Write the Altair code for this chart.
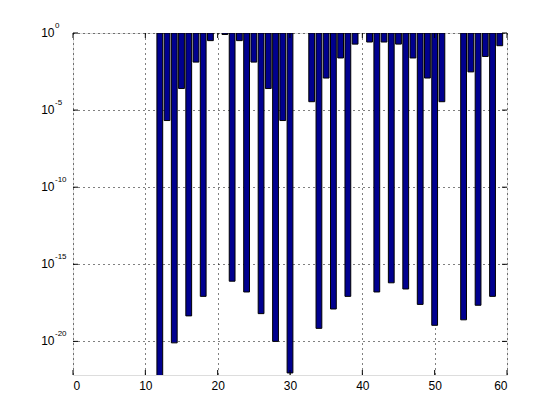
import altair as alt
import pandas as pd

# bar positions and their (log-scale) values
positions = [12, 13, 14, 15, 16, 17, 18, 19,
             21, 22, 23, 24, 25, 26, 27, 28, 29, 30,
             33, 34, 35, 36, 37, 38, 39,
             41, 42, 43, 44, 45, 46, 47, 48, 49, 50, 51,
             54, 55, 56, 57, 58, 59]
values = [1e-23, 2.1e-6, 8e-21, 2.5e-4, 4.5e-19, 1.3e-2, 8.3e-18, 0.32,
          0.8, 8e-17, 0.32, 1.6e-17, 1.3e-2, 6.3e-19, 2.5e-4, 1e-20, 2.1e-6, 9e-23,
          3.5e-5, 7e-20, 1.2e-3, 1.26e-18, 2.4e-2, 8.3e-18, 0.19,
          0.26, 1.6e-17, 0.26, 6.3e-17, 0.19, 2.5e-17, 2.4e-2, 2.5e-18, 1.2e-3, 1.1e-19, 3.5e-5,
          2.5e-19, 3e-3, 2.2e-18, 3e-2, 8.3e-18, 0.15]

x_ticks = [0, 10, 20, 30, 40, 50, 60]
y_tick_values = [1, 1e-5, 1e-10, 1e-15, 1e-20]
y_tick_exponents = ["0", "-5", "-10", "-15", "-20"]

W, H = 434, 342
FONT = "Liberation Sans"
BAR_HALF = 0.4

bars_df = pd.DataFrame({"x": positions, "v": values})
xt_df = pd.DataFrame({"t": x_ticks})
yt_df = pd.DataFrame({"v": y_tick_values, "e": y_tick_exponents})

xscale = alt.Scale(domain=[0, 60], nice=False, zero=False)
yscale = alt.Scale(type="log", domain=[6.6e-23, 1], nice=False)

xaxis = alt.Axis(
    values=x_ticks, grid=True, gridDash=[1, 4], gridColor="black", gridOpacity=1,
    ticks=False, domain=False, labelFont=FONT, labelFontSize=12, labelColor="black",
    labelPadding=5, title=None, format="d")
yaxis = alt.Axis(
    values=y_tick_values, grid=True, gridDash=[1, 4], gridColor="black", gridOpacity=1,
    labels=False, ticks=False, domain=False, title=None)

bars = alt.Chart(bars_df).transform_calculate(
    lo=f"datum.x - {BAR_HALF}", hi=f"datum.x + {BAR_HALF}"
).mark_rect(color="#00008F", stroke="black", strokeWidth=1, clip=True).encode(
    x=alt.X("lo:Q", scale=xscale, axis=xaxis),
    x2="hi:Q",
    y=alt.Y("v:Q", scale=yscale, axis=yaxis),
    y2=alt.value(0),
)

xt_bottom = alt.Chart(xt_df).mark_rule(color="black", strokeWidth=1).encode(
    x=alt.X("t:Q", scale=xscale, axis=xaxis), y=alt.value(H), y2=alt.value(H - 5))
xt_top = alt.Chart(xt_df).mark_rule(color="black", strokeWidth=1).encode(
    x=alt.X("t:Q", scale=xscale, axis=xaxis), y=alt.value(0), y2=alt.value(5))
yt_left = alt.Chart(yt_df).mark_rule(color="black", strokeWidth=1).encode(
    y=alt.Y("v:Q", scale=yscale, axis=yaxis), x=alt.value(0), x2=alt.value(5))
yt_right = alt.Chart(yt_df).mark_rule(color="black", strokeWidth=1).encode(
    y=alt.Y("v:Q", scale=yscale, axis=yaxis), x=alt.value(W), x2=alt.value(W - 5))

lab_base = alt.Chart(yt_df).transform_calculate(b="'10'").mark_text(
    font=FONT, fontSize=12, align="right", baseline="alphabetic", dy=4, color="black"
).encode(y=alt.Y("v:Q", scale=yscale, axis=yaxis), x=alt.value(-18.5), text="b:N")
lab_exp = alt.Chart(yt_df).mark_text(
    font=FONT, fontSize=8, align="left", baseline="alphabetic", dy=-5, color="black"
).encode(y=alt.Y("v:Q", scale=yscale, axis=yaxis), x=alt.value(-18), text="e:N")

chart = alt.layer(bars, xt_bottom, xt_top, yt_left, yt_right, lab_base, lab_exp).properties(
    width=W, height=H,
    autosize=alt.AutoSizeParams(type="none"),
    padding={"left": 65, "top": 25, "right": 30, "bottom": 30},
).configure_view(stroke="black", strokeWidth=1).configure(background="white")

chart.save("out.html", embed_options={"renderer": "svg", "actions": False})
